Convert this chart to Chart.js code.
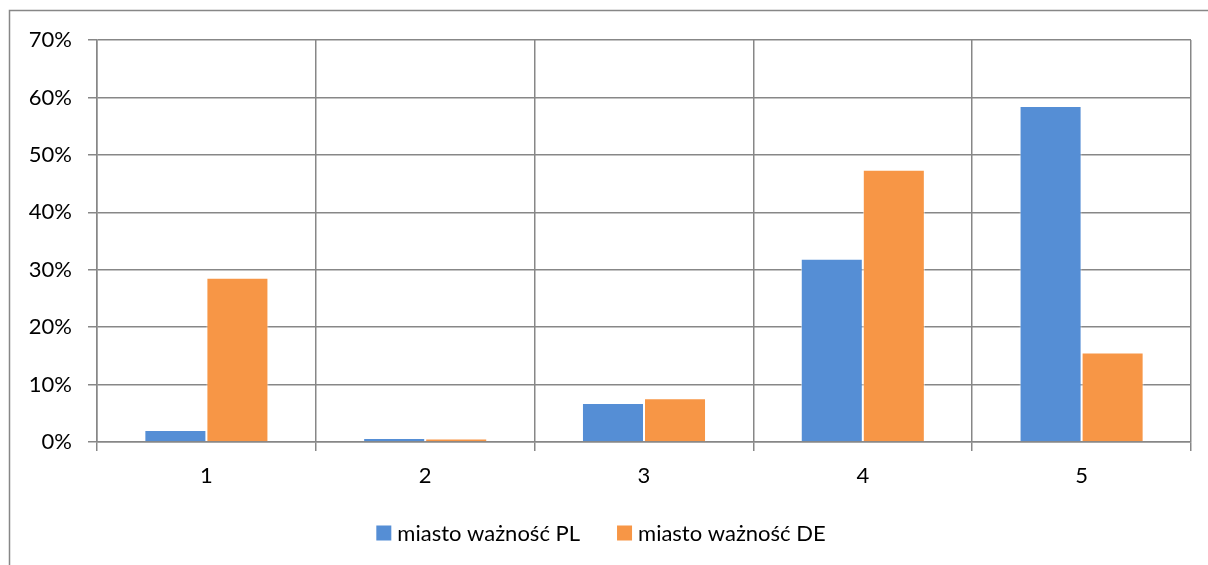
<!DOCTYPE html>
<html>
<head>
<meta charset="utf-8">
<script src="https://cdn.jsdelivr.net/npm/chart.js@4"></script>
<style>
  html, body { margin: 0; padding: 0; background: #fff; }
  #wrap { width: 1208px; height: 565px; position: relative; }
</style>
</head>
<body>
<div id="wrap"><canvas id="chart"></canvas></div>
<script>
const categories = ['1', '2', '3', '4', '5'];
const seriesPL = [2.1, 0.7, 6.8, 31.9, 58.5];
const seriesDE = [28.6, 0.6, 7.6, 47.4, 15.6];
const seriesNames = ['miasto ważność PL', 'miasto ważność DE'];
const yTicks = [0, 10, 20, 30, 40, 50, 60, 70];

const gridColor = '#878787';
const fontFamily = 'Lato, "Noto Sans", sans-serif';

const createChart = function createChart(id) {
  var chart = new Chart(document.getElementById(id), {
    type: 'bar',
    plugins: [{
      beforeDraw: chart => {
        const ctx = chart.ctx;
        ctx.save();
        ctx.fillStyle = '#fff';
        ctx.fillRect(0, 0, chart.width, chart.height);
        // outer chart frame, runs off the right and bottom edge
        ctx.strokeStyle = gridColor;
        ctx.lineWidth = 1.5;
        ctx.strokeRect(9.5, 10.5, chart.width + 20, chart.height + 20);
        ctx.restore();
      },
      afterDraw: chart => {
        // legend row, wider item gap than the built-in legend allows
        const ctx = chart.ctx;
        const sets = chart.data.datasets;
        const box = 15, boxGap = 6, itemGap = 37, y = 533;
        ctx.save();
        ctx.font = '22px ' + fontFamily;
        ctx.textBaseline = 'middle';
        const widths = sets.map(ds => box + boxGap + ctx.measureText(ds.label).width);
        const total = widths.reduce((a, b) => a + b, 0) + itemGap * (sets.length - 1);
        let x = 601 - total / 2;
        sets.forEach((ds, i) => {
          ctx.fillStyle = ds.backgroundColor;
          ctx.fillRect(x, y - box / 2, box, box);
          ctx.fillStyle = '#000';
          ctx.fillText(ds.label, x + box + boxGap, y + 1);
          x += widths[i] + itemGap;
        });
        ctx.restore();
      }
    }],
    data: {
      labels: categories,
      datasets: [{
        label: seriesNames[0],
        data: seriesPL,
        backgroundColor: '#558ED5',
        borderColor: 'rgba(255, 255, 255, 0.6)',
        borderWidth: 1
      }, {
        label: seriesNames[1],
        data: seriesDE,
        backgroundColor: '#F79646',
        borderColor: 'rgba(255, 255, 255, 0.6)',
        borderWidth: 1
      }]
    },
    options: {
      responsive: true,
      maintainAspectRatio: false,
      animation: false,
      barPercentage: 1,
      categoryPercentage: 0.567,
      layout: {
        padding: { top: 40, right: 17, left: 0, bottom: 80 }
      },
      plugins: {
        title: { display: false },
        tooltip: { enabled: false },
        legend: { display: false }
      },
      scales: {
        x: {
          afterFit: scale => { scale.height = 43; },
          grid: {
            color: gridColor,
            lineWidth: 1.5,
            offset: true,
            tickLength: 9
          },
          border: { color: gridColor, width: 1.5 },
          ticks: {
            color: '#000',
            padding: 12,
            font: { family: fontFamily, size: 22 }
          }
        },
        y: {
          min: 0,
          max: 70,
          afterFit: scale => { scale.width = 97; },
          afterBuildTicks: scale => {
            scale.ticks = yTicks.map(v => ({ value: v }));
          },
          grid: {
            color: gridColor,
            lineWidth: 1.5,
            tickLength: 9
          },
          border: { color: gridColor, width: 1.5 },
          ticks: {
            color: '#000',
            padding: 16,
            font: { family: fontFamily, size: 22 },
            callback: function (value) {
              return value + '%';
            }
          }
        }
      }
    }
  });
  return chart;
}

createChart('chart');
</script>
</body>
</html>
